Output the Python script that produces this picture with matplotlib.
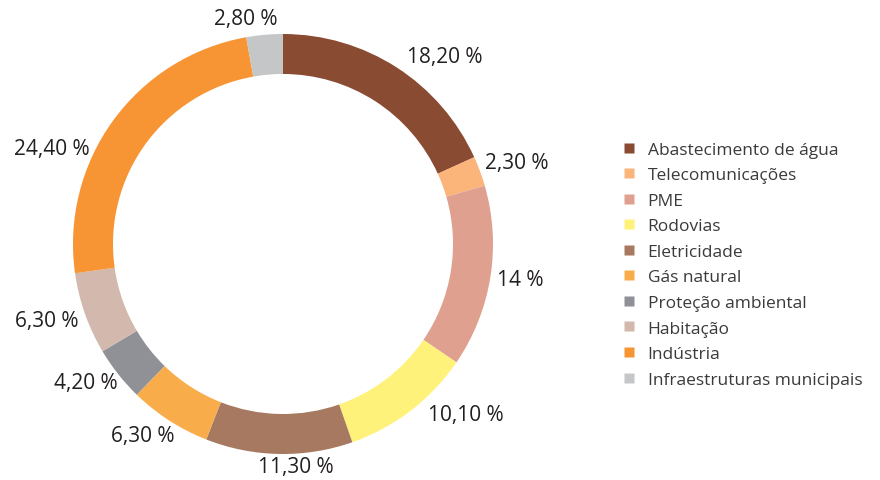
import numpy as np
import matplotlib
matplotlib.use('Agg')
import matplotlib.pyplot as plt
from matplotlib.lines import Line2D

plt.rcParams['font.family'] = ['Open Sans', 'DejaVu Sans']

CATEGORIES = ['Abastecimento de água', 'Telecomunicações', 'PME', 'Rodovias',
              'Eletricidade', 'Gás natural', 'Proteção ambiental', 'Habitação',
              'Indústria', 'Infraestruturas municipais']
VALUES = [18.2, 2.3, 14.0, 10.1, 11.3, 6.3, 4.2, 6.3, 24.4, 2.8]
LABELS = ['18,20 %', '2,30 %', '14 %', '10,10 %', '11,30 %',
          '6,30 %', '4,20 %', '6,30 %', '24,40 %', '2,80 %']
COLORS = ['#8a4b33', '#fbb47a', '#e0a08f', '#fff27a', '#a67960',
          '#f9ad4a', '#8f9196', '#d3b9ad', '#f79434', '#c5c6c8']

# label placement (angle shift in degrees, radius as fraction of outer radius)
LABEL_SHIFT = [-8.0, -1.0, 0.6, 9.4, 4.5, -3.4, -3.2, -1.5, 13.6, 4.4]
LABEL_R = [1.18, 1.18, 1.14, 1.19, 1.06, 1.13, 1.15, 1.18, 1.19, 1.09]

W, H = 880, 481
CX, CY, R = 283, 245, 210   # ring centre / outer radius in pixels

fig = plt.figure(figsize=(W / 100, H / 100), dpi=100)
ax = fig.add_axes([0, 0, 1, 1])

ax.pie(VALUES, colors=COLORS, startangle=90, counterclock=False,
       radius=1.0, wedgeprops=dict(width=40 / R, edgecolor='none'))

ax.set_xlim(-CX / R, (W - CX) / R)
ax.set_ylim(-(H - CY) / R, CY / R)
ax.set_aspect('auto')
ax.axis('off')

total = sum(VALUES)
cum = np.cumsum([0] + VALUES)
for i, lab in enumerate(LABELS):
    mid = 90 - 360 * (cum[i] + VALUES[i] / 2) / total + LABEL_SHIFT[i]
    t = np.deg2rad(mid)
    ax.text(LABEL_R[i] * np.cos(t), LABEL_R[i] * np.sin(t), lab,
            ha='center', va='center', fontsize=15, color='#231f20')

handles = [Line2D([], [], marker='s', linestyle='none', markersize=7.5,
                  markerfacecolor=c, markeredgecolor='none') for c in COLORS]
fig.legend(handles, CATEGORIES, loc='upper left',
           bbox_to_anchor=(612 / W, 1 - 134 / H), frameon=False,
           fontsize=12.5, labelcolor='#3a3a3a', handlelength=1.0,
           handletextpad=0.55, labelspacing=0.54, borderpad=0)

plt.savefig('out.png', dpi=100)
plt.close()
